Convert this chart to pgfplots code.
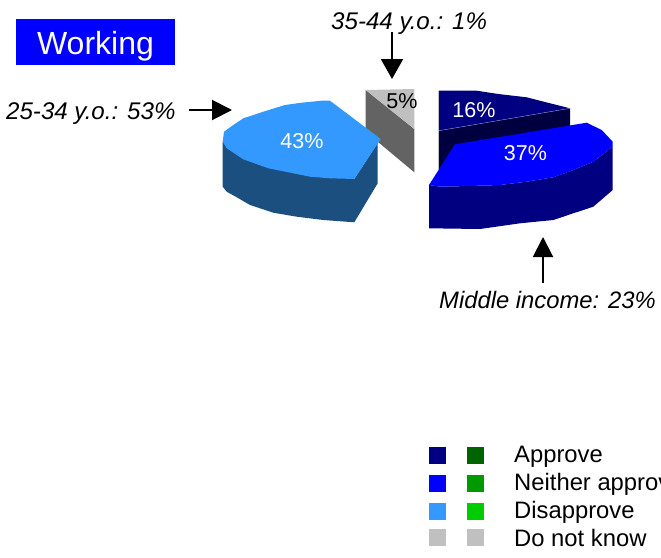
\documentclass[border=0pt]{standalone}
\usepackage{fontspec}
\setmainfont{Liberation Sans}
\usepackage{pgfplots}
\pgfplotsset{compat=1.18}
\usetikzlibrary{arrows.meta}

\definecolor{navyp}{HTML}{000080}
\definecolor{navydark}{HTML}{000040}
\definecolor{bluep}{HTML}{0000FF}
\definecolor{skyp}{HTML}{3399FF}
\definecolor{skydark}{HTML}{1A4F80}
\definecolor{greyp}{HTML}{C0C0C0}
\definecolor{greydark}{HTML}{636363}
\definecolor{grn1}{HTML}{006400}
\definecolor{grn2}{HTML}{009900}
\definecolor{grn3}{HTML}{00CC00}

\newcommand{\lab}{\fontsize{23.8}{28}\selectfont}
\newcommand{\yo}{\fontsize{24.1}{28}\selectfont}
\newcommand{\pct}{\fontsize{21.5}{25}\selectfont}

\begin{document}
\begin{tikzpicture}
\useasboundingbox (0,0) rectangle (661pt,557pt);
\begin{axis}[
    at={(0,0)}, anchor=south west,
    scale only axis, width=661pt, height=557pt,
    xmin=0, xmax=661, ymin=0, ymax=557,
    y dir=reverse,
    hide axis, clip=false,
]
% grey slice
\addplot[fill=greydark, draw=none] coordinates {
    (365.7,90) (414.3,129) (414.3,172.3) (365.7,131.7) (365.7,90)};
\addplot[fill=greyp, draw=none] coordinates {
    (365.7,90) (414.3,89) (414.3,129) (365.7,90)};

% disapprove slice
\addplot[fill=skydark, draw=none] coordinates {
    (222.7,141.7) (222.7,186.7) (226.7,191.7) (238,198) (250,205) (273.3,212.7) (296.7,216.7)
    (323.3,220) (354.3,222.3) (377.7,183.3) (377.7,143) (354.3,179) (222.7,141.7)};
\addplot[fill=skyp, draw=none] coordinates {
    (330,100.7) (321.7,100.7) (301.7,102.7) (285,105) (263.3,111.7) (243.3,118.3)
    (233.3,125) (224,131.7) (222.7,141.7) (226.7,148.3) (243.3,159.3) (268.3,168.3)
    (293.3,173.3) (310,176.7) (330,178.3) (354.3,179) (380.7,139) (330,100.7)};

% approve slice
\addplot[fill=navydark, draw=none] coordinates {
    (439,130.7) (570,108.3) (570,127) (455,145) (439,172) (439,130.7)};
\addplot[fill=navyp, draw=none] coordinates {
    (439,90.7) (476.7,90.7) (498.3,94) (526.7,97.3) (550,103.3) (570,108.3) (439,130.7) (439,90.7)};
\addplot[color=greyp, line width=0.5pt] coordinates {(438.5,90.7) (438.5,170)};
\addplot[color=navyp!50!white, line width=0.4pt] coordinates {(439,130.7) (570,108.3)};

% neither slice
\addplot[fill=navyp, draw=none] coordinates {
    (429,185) (440,186.7) (470,186) (500,185) (526.7,181.7) (553.3,177.3) (573.3,170)
    (593.3,161.7) (612.7,146.7) (612.7,190) (593.3,206.7) (573.3,213.3) (553.3,220)
    (520,223.3) (480,229) (429,228.3) (429,185)};
\addplot[fill=bluep, draw=none] coordinates {
    (429,185) (455,144.3) (586.7,122.7) (601.7,130) (612.7,141.7) (612.7,146.7) (593.3,161.7)
    (573.3,170) (553.3,177.3) (526.7,181.7) (500,185) (470,186) (440,186.7) (429,185)};

% legend swatches
\addplot[only marks, mark=square*, mark size=8pt, color=navyp] coordinates {(437,455)};
\addplot[only marks, mark=square*, mark size=8pt, color=bluep] coordinates {(437,483)};
\addplot[only marks, mark=square*, mark size=8pt, color=skyp] coordinates {(437,511)};
\addplot[only marks, mark=square*, mark size=8pt, color=greyp] coordinates {(437,537)};
\addplot[only marks, mark=square*, mark size=8pt, color=grn1] coordinates {(475,455)};
\addplot[only marks, mark=square*, mark size=8pt, color=grn2] coordinates {(475,483)};
\addplot[only marks, mark=square*, mark size=8pt, color=grn3] coordinates {(475,511)};
\addplot[only marks, mark=square*, mark size=8pt, color=greyp] coordinates {(475,537)};

% slice labels
\node[white, font=\pct] at (axis cs:474,110) {16\%};
\node[white, font=\pct] at (axis cs:525.5,153) {37\%};
\node[white, font=\pct] at (axis cs:302,141) {43\%};
\node[black, font=\pct] at (axis cs:402,101) {5\%};

% title box
\fill[bluep] (axis cs:16,19) rectangle (axis cs:175,65);
\node[text=white, anchor=base, font=\fontsize{32}{36}\selectfont, inner sep=0pt] at (axis cs:95.5,54) {Working};

% callouts
\node[anchor=base west, inner sep=0pt, font=\yo\itshape] at (axis cs:6,119) {25-34 y.o.: 53\%};
\node[anchor=base west, inner sep=0pt, font=\yo\itshape] at (axis cs:331,29) {35-44 y.o.: 1\%};
\node[anchor=base west, inner sep=0pt, font=\lab\itshape] at (axis cs:439,308) {Middle income: 23\%};
\draw[-{Triangle[length=20pt,width=20pt]}, line width=2pt] (axis cs:189,110) -- (axis cs:232,110);
\draw[-{Triangle[length=20pt,width=22pt]}, line width=2pt] (axis cs:392,32) -- (axis cs:392,79);
\draw[-{Triangle[length=20pt,width=20pt]}, line width=2pt] (axis cs:543,283) -- (axis cs:543,237);

% legend text
\node[anchor=base west, inner sep=0pt, font=\lab] at (axis cs:514,462) {Approve};
\node[anchor=base west, inner sep=0pt, font=\lab] at (axis cs:514,490) {Neither approve nor disapprove};
\node[anchor=base west, inner sep=0pt, font=\lab] at (axis cs:514,518) {Disapprove};
\node[anchor=base west, inner sep=0pt, font=\lab] at (axis cs:514,546) {Do not know};
\end{axis}
\end{tikzpicture}
\end{document}
